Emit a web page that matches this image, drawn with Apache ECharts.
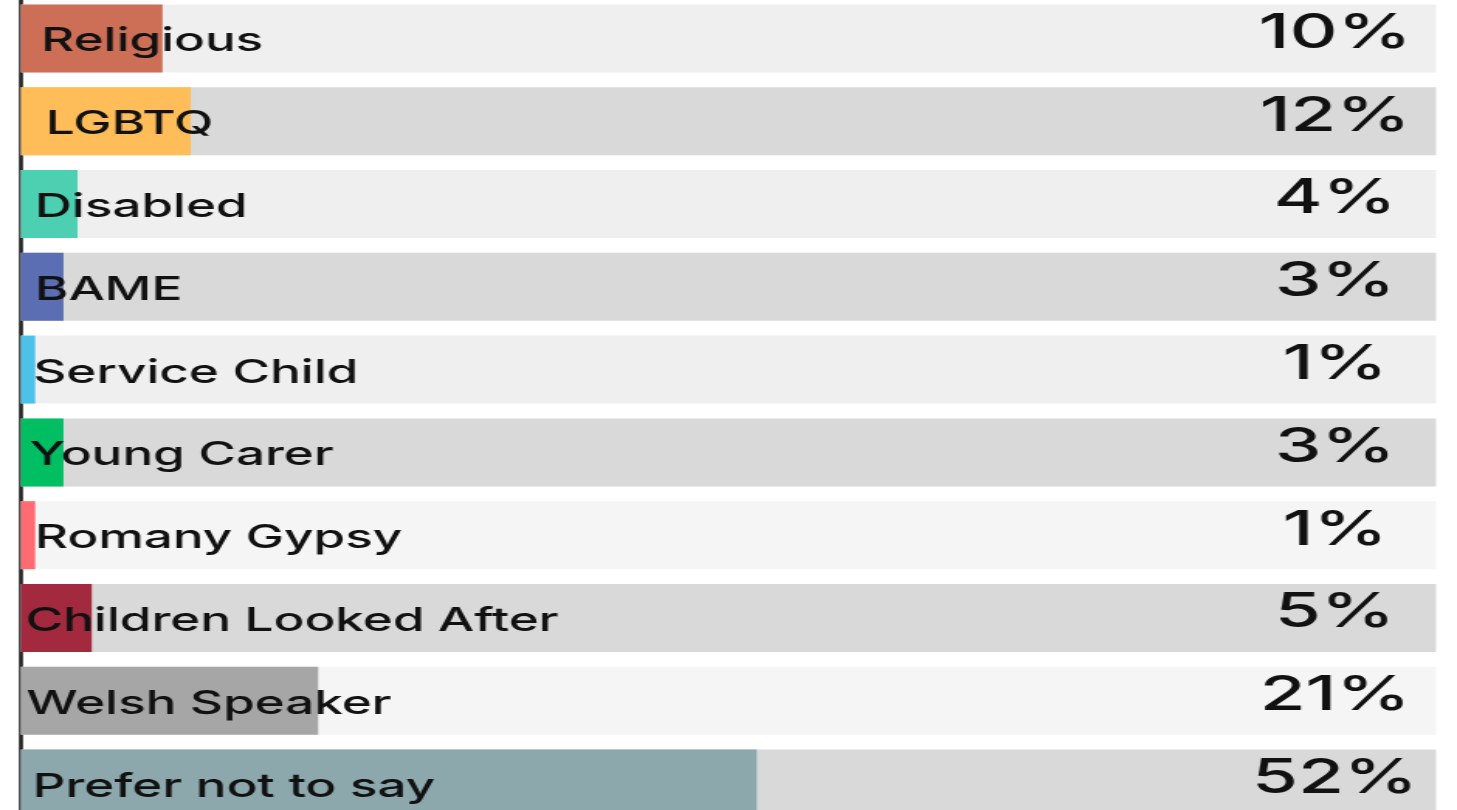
<!DOCTYPE html>
<html>
<head>
<meta charset="utf-8">
<script src="https://cdn.jsdelivr.net/npm/echarts@6/dist/echarts.min.js"></script>
<style>
  html, body { margin: 0; padding: 0; background: #fff; overflow: hidden; }
  /* the reference is a horizontally stretched picture, so stretch the whole chart;
     it is also cut off at the bottom, so the chart runs a bit past the window */
  #chart { position: absolute; left: 0; top: -3.5px; width: 940px; height: 828px; transform: scaleX(1.55); transform-origin: 0 0; }
</style>
</head>
<body>
<div id="chart"></div>
<script>
const categories = ['Religious', 'LGBTQ', 'Disabled', 'BAME', 'Service Child', 'Young Carer', 'Romany Gypsy', 'Children Looked After', 'Welsh Speaker', 'Prefer not to say']
const percents = [10, 12, 4, 3, 1, 3, 1, 5, 21, 52]
const trackMax = 100

// styles kept apart from the data
const barColors = ['#cc6f56', '#ffbd59', '#4dd0b1', '#5b6db3', '#4dc1ea', '#00bf63', '#ff6b72', '#a3293f', '#a6a6a6', '#8ca8ac']
const trackColors = ['#efefef', '#d9d9d9', '#efefef', '#d9d9d9', '#efefef', '#d9d9d9', '#f5f5f5', '#d9d9d9', '#f5f5f5', '#d9d9d9']
const labelNudge = [3, 6, -1, -1, -2, -4.5, -1, -7, -6.5, -2.5] // name labels are not quite lined up in the original
const font = 'Inter'

const chart = echarts.init(document.getElementById('chart'))
chart.setOption({
  animation: false,
  grid: { left: 13.55, right: 13.55, top: 0, bottom: 0 },
  xAxis: { type: 'value', min: 0, max: trackMax, show: false },
  yAxis: {
    type: 'category',
    data: categories,
    inverse: true,
    offset: 2.6,
    axisLine: { show: true, lineStyle: { color: '#1e1e1e', width: 2.6 } },
    axisTick: { show: false },
    axisLabel: { show: false }
  },
  series: [{
    // grey track behind each bar, carries the percent text
    type: 'bar',
    barWidth: 68,
    barGap: '-100%',
    silent: true,
    data: categories.map((c, i) => ({
      value: trackMax,
      itemStyle: { color: trackColors[i] },
      label: { formatter: percents[i] + '%' }
    })),
    label: {
      show: true,
      position: ['92.86%', '50%'],
      align: 'center',
      verticalAlign: 'middle',
      offset: [0, -5],
      fontFamily: font,
      fontWeight: 500,
      fontSize: 48,
      color: '#111'
    }
  }, {
    type: 'bar',
    barWidth: 68,
    data: percents.map((v, i) => ({
      value: v,
      itemStyle: { color: barColors[i] },
      label: { offset: [labelNudge[i], 3] }
    })),
    label: {
      show: true,
      position: [10, '50%'],
      align: 'left',
      verticalAlign: 'middle',
      formatter: p => p.name,
      fontFamily: font,
      fontWeight: 500,
      fontSize: 33,
      color: '#111'
    }
  }]
})
</script>
</body>
</html>
